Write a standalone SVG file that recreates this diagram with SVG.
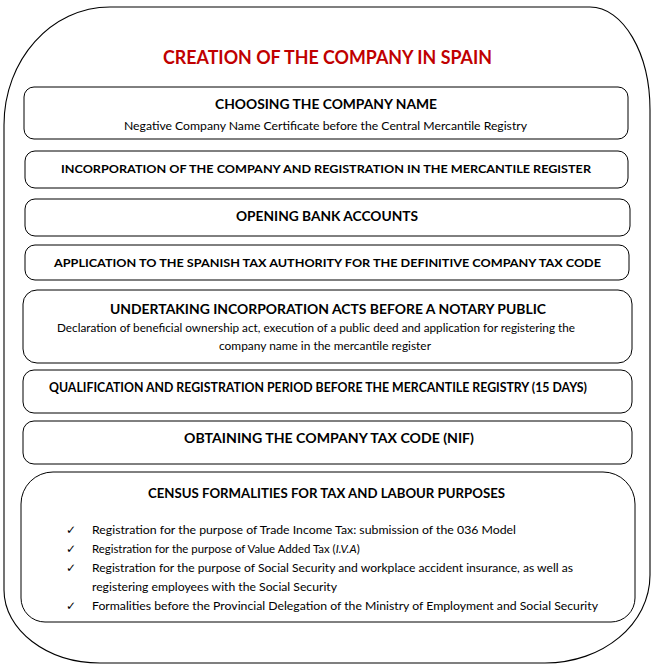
<svg xmlns="http://www.w3.org/2000/svg" width="651" height="666" viewBox="0 0 651 666">
<style>
.frame{fill:none;stroke:#000;stroke-width:1.1}
.box{fill:#fff;stroke:#000;stroke-width:1}
text{font-family:Lato,"Liberation Sans",sans-serif;fill:#000}
.h{font-weight:bold}
.b{font-size:12px}
.ttl{font-size:19px;font-weight:bold;fill:#c00000}
.chk{font-family:"DejaVu Sans",sans-serif;font-size:12px}
</style>
<rect width="651" height="666" fill="#fff"/>
<path class="frame" d="M 110,7 L 590,7 C 623,7 650,53 650,110 L 650,575 C 650,624 603,663 545,663 L 100,663 C 47,663 4,630 4,590 L 4,125 C 4,60 51,7 110,7 Z"/>
<g id="title">
<text class="ttl" x="163" y="63.5" textLength="329" lengthAdjust="spacingAndGlyphs">CREATION OF THE COMPANY IN SPAIN</text>
</g>
<g id="connectors"/>
<g id="n1">
<rect class="box" x="24" y="87" width="604" height="52" rx="10"/>
<text class="h" x="215" y="109" font-size="14" textLength="222" lengthAdjust="spacingAndGlyphs">CHOOSING THE COMPANY NAME</text>
<text class="b" x="124" y="130" textLength="403" lengthAdjust="spacingAndGlyphs">Negative Company Name Certificate before the Central Mercantile Registry</text>
</g>
<g id="n2">
<rect class="box" x="25" y="151" width="603" height="37" rx="10"/>
<text class="h" x="61" y="173" font-size="12" textLength="530" lengthAdjust="spacingAndGlyphs">INCORPORATION OF THE COMPANY AND REGISTRATION IN THE MERCANTILE REGISTER</text>
</g>
<g id="n3">
<rect class="box" x="25" y="199" width="605" height="37" rx="10"/>
<text class="h" x="236" y="221" font-size="13.5" textLength="182" lengthAdjust="spacingAndGlyphs">OPENING BANK ACCOUNTS</text>
</g>
<g id="n4">
<rect class="box" x="25" y="245" width="604" height="35" rx="10"/>
<text class="h" x="54" y="267" font-size="12" textLength="547" lengthAdjust="spacingAndGlyphs">APPLICATION TO THE SPANISH TAX AUTHORITY FOR THE DEFINITIVE COMPANY TAX CODE</text>
</g>
<g id="n5">
<rect class="box" x="23" y="290" width="609" height="73" rx="14"/>
<text class="h" x="110" y="314" font-size="13.2" textLength="436" lengthAdjust="spacingAndGlyphs">UNDERTAKING INCORPORATION ACTS BEFORE A NOTARY PUBLIC</text>
<text class="b" x="57" y="332" textLength="518" lengthAdjust="spacingAndGlyphs">Declaration of beneficial ownership act, execution of a public deed and application for registering the</text>
<text class="b" x="219" y="350" textLength="212" lengthAdjust="spacingAndGlyphs">company name in the mercantile register</text>
</g>
<g id="n6">
<rect class="box" x="23" y="370" width="609" height="43" rx="11"/>
<text class="h" x="49" y="392" font-size="13.2" textLength="538" lengthAdjust="spacingAndGlyphs">QUALIFICATION AND REGISTRATION PERIOD BEFORE THE MERCANTILE REGISTRY (15 DAYS)</text>
</g>
<g id="n7">
<rect class="box" x="23" y="421" width="609" height="43" rx="11"/>
<text class="h" x="184" y="443" font-size="13.2" textLength="290" lengthAdjust="spacingAndGlyphs">OBTAINING THE COMPANY TAX CODE (NIF)</text>
</g>
<g id="n8">
<path class="box" d="M 53,472 L 603,472 A 32 32 0 0 1 635,504 L 635,598 A 24 24 0 0 1 611,622 L 45,622 A 24 24 0 0 1 21,598 L 21,504 A 32 32 0 0 1 53,472 Z"/>
<text class="h" x="148" y="498" font-size="13.2" textLength="357" lengthAdjust="spacingAndGlyphs">CENSUS FORMALITIES FOR TAX AND LABOUR PURPOSES</text>
<text class="chk" x="66" y="534">✓</text>
<text class="b" x="92" y="534" textLength="424" lengthAdjust="spacingAndGlyphs">Registration for the purpose of Trade Income Tax: submission of the 036 Model</text>
<text class="chk" x="66" y="553">✓</text>
<text class="b" x="92" y="553" style="font-size:11.4px">Registration for the purpose of Value Added Tax (<tspan font-style="italic">I.V.A</tspan>)</text>
<text class="chk" x="66" y="572">✓</text>
<text class="b" x="92" y="572" textLength="481" lengthAdjust="spacingAndGlyphs">Registration for the purpose of Social Security and workplace accident insurance, as well as</text>
<text class="b" x="92" y="591" textLength="245" lengthAdjust="spacingAndGlyphs">registering employees with the Social Security</text>
<text class="chk" x="66" y="610">✓</text>
<text class="b" x="92" y="610" textLength="506" lengthAdjust="spacingAndGlyphs">Formalities before the Provincial Delegation of the Ministry of Employment and Social Security</text>
</g>
</svg>
